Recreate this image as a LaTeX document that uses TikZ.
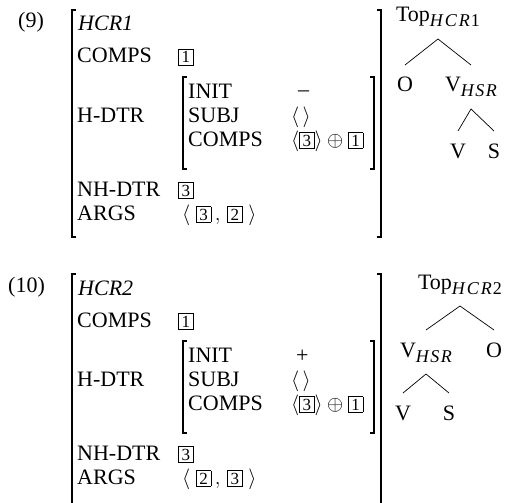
\documentclass[tikz,border=0pt]{standalone}
\usepackage{fontspec}
\setmainfont{Liberation Serif}

% boxed tag and lowered subscript
\newcommand{\tg}[1]{\mbox{\setlength{\fboxsep}{1.8pt}\setlength{\fboxrule}{0.6pt}\fbox{\makebox[10.5pt]{\fontsize{17}{17}\selectfont #1}}}}
\newcommand{\sbx}[1]{\raisebox{-5pt}{\fontsize{18}{18}\selectfont #1}}
\newcommand{\hsr}{\sbx{\textit{H\kern1.5pt S\kern1.5pt R}}}

\begin{document}
\begin{tikzpicture}[x=1pt, y=-1pt,
    every node/.style={inner sep=0pt, font=\fontsize{22}{26}\selectfont},
    feat/.style={anchor=base west},
    brk/.style={line width=1.3pt},
    tr/.style={anchor=base, text height=15pt, text depth=5pt, outer sep=12pt},
    edge/.style={line width=0.7pt}]
    \useasboundingbox (0,0) rectangle (506,503);

    % ---------- example (9)
    \node[feat] (numA) at (18,28) {(9)};
    % outer brackets
    \draw[brk] (76,10) -- (72,10) -- (72,237) -- (76,237);
    \draw[brk] (377,10) -- (381,10) -- (381,237) -- (377,237);
    \node[feat] (hcrA) at (78,31) {\textit{HCR1}};
    \node[feat] (compsA) at (77,63) {COMPS};
    \node[feat] (compsvA) at (178,63) {\tg{1}};
    \node[feat] (hdtrA) at (77,122) {H-DTR};
    % inner brackets (head daughter)
    \draw[brk] (187,77) -- (183,77) -- (183,169) -- (187,169);
    \draw[brk] (370,77) -- (374,77) -- (374,169) -- (370,169);
    \node[feat] (initA) at (188,98) {INIT};
    \node[feat] (initvA) at (298,96) {–};
    \node[feat] (subjA) at (188,122) {SUBJ};
    \node[feat] (subjvA) at (291,122) {$\langle\,\rangle$};
    \node[feat] (icompsA) at (188,146) {COMPS};
    \node[feat] (icompsvA) at (291,146) {$\langle\tg{3}\rangle \oplus \tg{1}$};
    \node[feat] (nhdtrA) at (77,196) {NH-DTR};
    \node[feat] (nhdtrvA) at (178,196) {\tg{3}};
    \node[feat] (argsA) at (77,220) {ARGS};
    \node[feat] (argsvA) at (182,220) {$\langle\;\tg{3}\,,\,\tg{2}\;\rangle$};

    % tree (9)
    \node[tr] (topA) at (438,22) {Top\sbx{\textit{H\kern2pt C\kern2pt R}\kern1pt 1}};
    \node[tr] (oA) at (405,92) {O};
    \node[tr] (vhA) at (471,92) {V\hsr};
    \node[tr] (vA) at (458,158) {V};
    \node[tr] (sA) at (494,158) {S};
    \draw[edge] (oA.north) -- (topA.south) -- (vhA.north);
    \draw[edge] (vA.north) -- (vhA.south) -- (sA.north);

    % ---------- example (10)
    \node[feat] (numB) at (8,292) {(10)};
    \draw[brk] (76,274) -- (72,274) -- (72,503);
    \draw[brk] (377,274) -- (381,274) -- (381,503);
    \node[feat] (hcrB) at (78,295) {\textit{HCR2}};
    \node[feat] (compsB) at (77,327) {COMPS};
    \node[feat] (compsvB) at (178,327) {\tg{1}};
    \node[feat] (hdtrB) at (77,386) {H-DTR};
    \draw[brk] (187,341) -- (183,341) -- (183,433) -- (187,433);
    \draw[brk] (370,341) -- (374,341) -- (374,433) -- (370,433);
    \node[feat] (initB) at (188,362) {INIT};
    \node[feat] (initvB) at (296,362) {+};
    \node[feat] (subjB) at (188,386) {SUBJ};
    \node[feat] (subjvB) at (291,386) {$\langle\,\rangle$};
    \node[feat] (icompsB) at (188,410) {COMPS};
    \node[feat] (icompsvB) at (291,410) {$\langle\tg{3}\rangle \oplus \tg{1}$};
    \node[feat] (nhdtrB) at (77,460) {NH-DTR};
    \node[feat] (nhdtrvB) at (178,460) {\tg{3}};
    \node[feat] (argsB) at (77,484) {ARGS};
    \node[feat] (argsvB) at (182,484) {$\langle\;\tg{2}\,,\,\tg{3}\;\rangle$};

    % tree (10)
    \node[tr] (topB) at (460,289) {Top\sbx{\textit{H\kern2pt C\kern2pt R}\kern1pt 2}};
    \node[tr] (vhB) at (426,357) {V\hsr};
    \node[tr] (oB) at (494,357) {O};
    \node[tr] (vB) at (403,420) {V};
    \node[tr] (sB) at (449,420) {S};
    \draw[edge] (vhB.north) -- (topB.south) -- (oB.north);
    \draw[edge] (vB.north) -- (vhB.south) -- (sB.north);
\end{tikzpicture}
\end{document}
